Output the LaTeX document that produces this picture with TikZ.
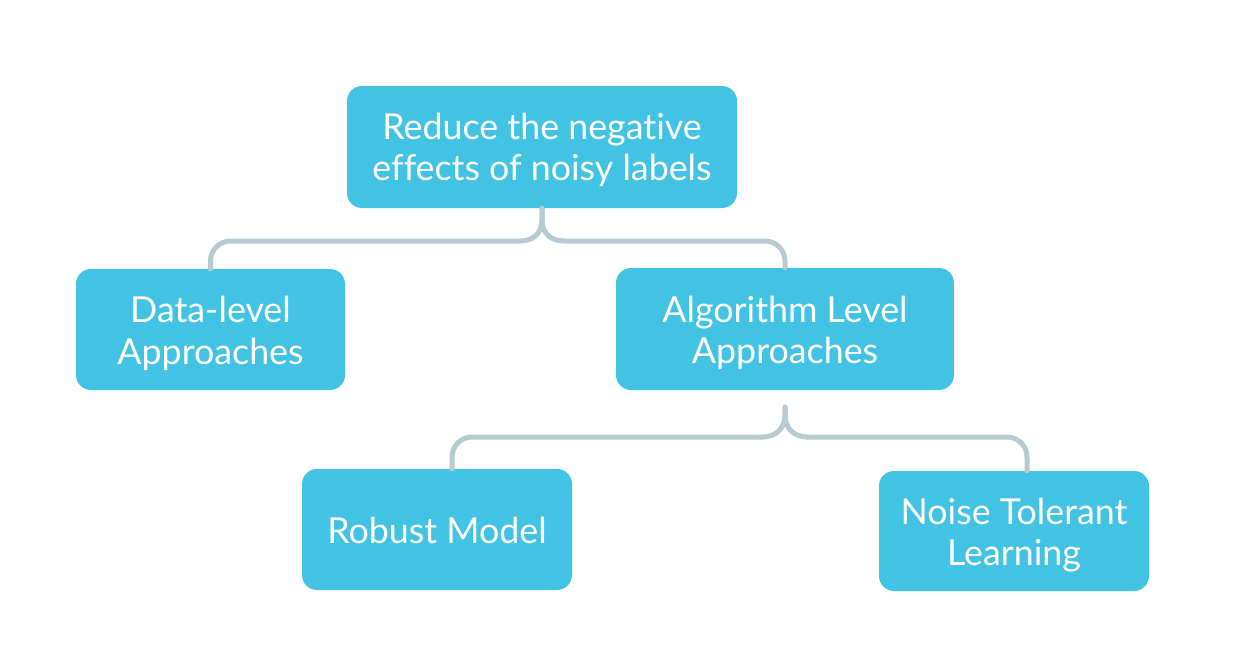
\documentclass[tikz,border=0pt]{standalone}
\usepackage{fontspec}
\setmainfont{Lato}[Ligatures={NoCommon,NoRare}]
\definecolor{boxblue}{HTML}{43C3E4}
\definecolor{connc}{HTML}{B7C9D1}
\begin{document}
\begin{tikzpicture}[x=1pt,y=-1pt,
  box/.style={fill=boxblue, rounded corners=15pt, inner sep=0pt, minimum height=122pt},
  txt/.style={text=white, align=center, font=\fontsize{35.8}{41.5}\selectfont, inner sep=0pt},
  conn/.style={draw=connc, line width=5pt, line cap=round, line join=round}]
\useasboundingbox (0,0) rectangle (1243,669);
\fill[white] (0,0) rectangle (1243,669);
\node[box, minimum width=390pt,
  label={[txt, yshift=-3pt]center:{Reduce the negative\\effects of noisy labels}}] (top) at (542,147) {};
\node[box, minimum width=269pt, minimum height=121pt,
  label={[txt, yshift=-4pt]center:{Data-level\\Approaches}}] (data) at (210.5,329.5) {};
\node[box, minimum width=338pt,
  label={[txt, yshift=-4pt]center:{Algorithm Level\\Approaches}}] (algo) at (785,329) {};
\node[box, minimum width=270pt, minimum height=121pt,
  label={[txt, yshift=-1pt]center:{Robust Model}}] (robust) at (437,529.5) {};
\node[box, minimum width=270pt, minimum height=120pt,
  label={[txt, yshift=-4pt]center:{Noise Tolerant\\Learning}}] (noise) at (1014,531) {};
% first brace
\coordinate (h1) at (542,241);
\draw[conn] (top.south) -- ++(0,12) .. controls +(0,14) and +(12,0) .. ([xshift=-22pt]h1);
\draw[conn] (top.south) -- ++(0,12) .. controls +(0,14) and +(-12,0) .. ([xshift=22pt]h1);
\draw[conn, rounded corners=20pt] ([xshift=-22pt]h1) -- (data.north |- h1) -- (data.north);
\draw[conn, rounded corners=20pt] ([xshift=22pt]h1) -- (algo.north |- h1) -- (algo.north);
% second brace
\coordinate (b2) at (785,407);
\coordinate (h2) at (785,437);
\draw[conn] (b2) -- ++(0,8) .. controls +(0,14) and +(12,0) .. ([xshift=-22pt]h2);
\draw[conn] (b2) -- ++(0,8) .. controls +(0,14) and +(-12,0) .. ([xshift=22pt]h2);
\draw[conn, rounded corners=20pt] ([xshift=-22pt]h2) -- ([xshift=15pt]robust.north |- h2) -- ([xshift=15pt]robust.north);
\draw[conn, rounded corners=20pt] ([xshift=22pt]h2) -- ([xshift=13pt]noise.north |- h2) -- ([xshift=13pt]noise.north);
\end{tikzpicture}
\end{document}
